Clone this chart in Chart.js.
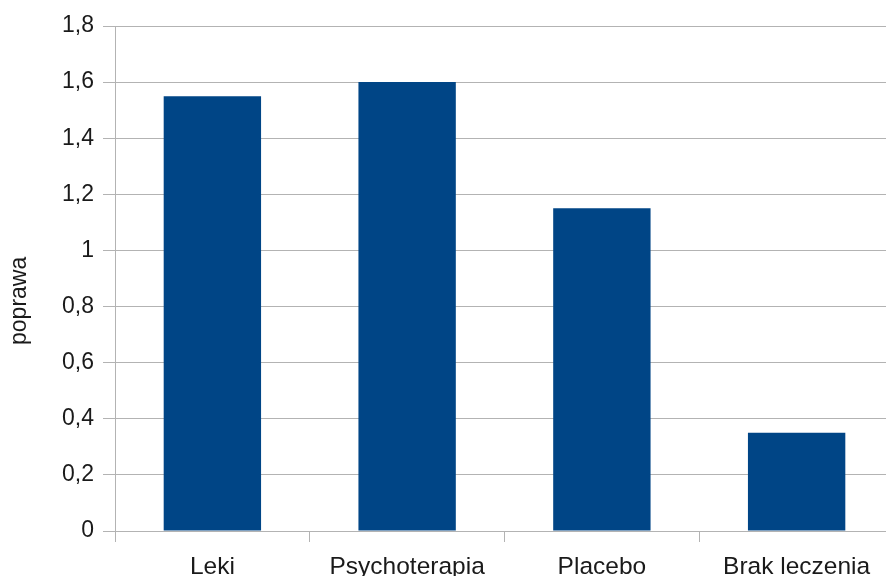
<!DOCTYPE html>
<html>
<head>
<meta charset="utf-8">
<script src="https://cdn.jsdelivr.net/npm/chart.js@4"></script>
<style>
  html, body { margin: 0; padding: 0; background: #fff; overflow: hidden; }
  #wrap { width: 894px; height: 576px; }
</style>
</head>
<body>
<div id="wrap"><canvas id="chart"></canvas></div>
<script>
const categories = ["Leki", "Psychoterapia", "Placebo", "Brak leczenia"];
const poprawa = [1.55, 1.6, 1.15, 0.35];
const yTicks = [0, 0.2, 0.4, 0.6, 0.8, 1, 1.2, 1.4, 1.6, 1.8];

const gridColor = "#b3b3b3";
const textColor = "#1a1a1a";
const fontFamily = "'Liberation Sans', Arial, sans-serif";

new Chart(document.getElementById("chart"), {
  type: "bar",
  data: {
    labels: categories,
    datasets: [{
      label: "poprawa",
      data: poprawa,
      backgroundColor: "#004586",
      borderWidth: 0,
      barPercentage: 0.5,
      categoryPercentage: 1
    }]
  },
  options: {
    responsive: true,
    maintainAspectRatio: false,
    animation: false,
    layout: { padding: { top: 26, right: 0, left: 0, bottom: 0 } },
    plugins: {
      legend: { display: false },
      tooltip: { enabled: false }
    },
    scales: {
      x: {
        offset: true,
        grid: {
          offset: true,
          drawOnChartArea: false,
          drawTicks: true,
          tickLength: 11,
          color: gridColor
        },
        border: { display: false },
        ticks: {
          color: textColor,
          padding: 11,
          font: { family: fontFamily, size: 24.5 }
        },
        afterFit: s => { s.height = 45; }
      },
      y: {
        min: 0,
        max: 1.8,
        afterBuildTicks: s => { s.ticks = yTicks.map(v => ({ value: v })); },
        grid: { color: gridColor, tickLength: 12 },
        border: { display: true, color: gridColor },
        ticks: {
          color: textColor,
          padding: 9,
          font: { family: fontFamily, size: 23 },
          callback: v => String(v).replace(".", ",")
        },
        title: {
          display: true,
          // trailing spaces push the rotated word down a little, like the original
          text: "poprawa       ",
          color: textColor,
          padding: { top: 6, bottom: 8 },
          font: { family: fontFamily, size: 23 }
        },
        afterFit: s => { s.width = 115; }
      }
    }
  }
});
</script>
</body>
</html>
